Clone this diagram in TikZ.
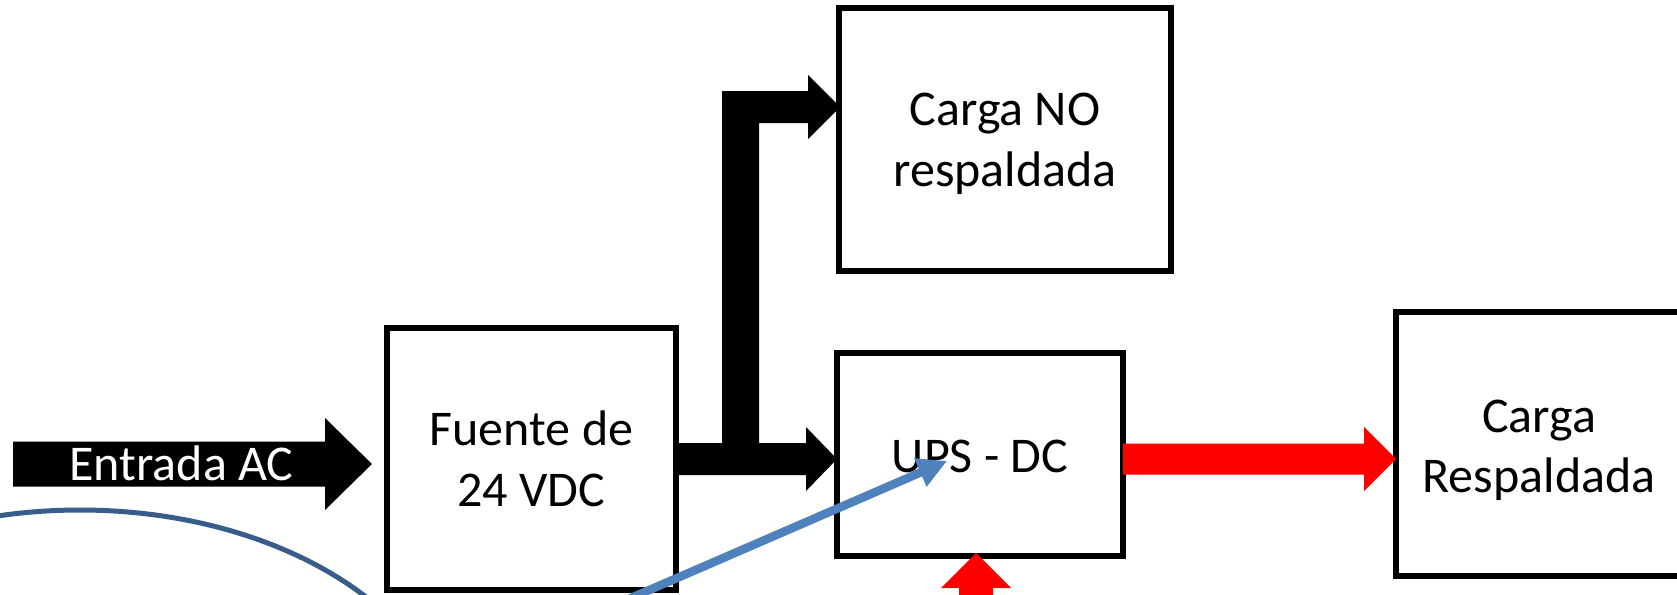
\documentclass[tikz,border=0pt]{standalone}
\usepackage{fontspec}
\setmainfont{Carlito}
\usetikzlibrary{calc,arrows.meta,shapes.geometric}
\definecolor{ellblue}{RGB}{56,93,138}
\definecolor{arrblue}{RGB}{79,129,189}
\definecolor{pred}{RGB}{255,0,0}
% colour, from, to, half shaft, half head, head length
\newcommand{\hblockarrow}[6]{%
  \fill[#1] let \p1=(#2), \p2=(#3) in
  (\x1,\y1+#4) -- (\x2-#6,\y1+#4) -- (\x2-#6,\y1+#5) -- (\x2,\y1) --
  (\x2-#6,\y1-#5) -- (\x2-#6,\y1-#4) -- (\x1,\y1-#4) -- cycle;}
\begin{document}
\begin{tikzpicture}[x=1pt,y=-1pt,
  box/.style={draw=black,line width=5.5pt,fill=white,inner sep=0pt,outer sep=0pt},
  lbl/.style={font=\fontsize{50}{60}\selectfont,inner sep=0pt,anchor=base},
  bluearrow/.style={draw=arrblue,line width=8.5pt,-{Triangle[length=29pt,width=29pt]}}]
\useasboundingbox (0,0) rectangle (1677,594);
\clip (0,0) rectangle (1677,594);

% background oval
\node[draw=ellblue,line width=5pt,ellipse,inner sep=0pt,
      minimum width=752pt,minimum height=496pt] (oval) at (80,758) {};

% boxes
\node[box,minimum width=289pt,minimum height=262pt] (fuente) at (531.5,459) {};
\node[box,minimum width=332pt,minimum height=263pt] (nores) at (1005,139.5) {};
\node[box,minimum width=286pt,minimum height=203pt] (ups) at (980,454.5) {};
\node[box,minimum width=286pt,minimum height=264pt] (resp) at (1539,444) {};

% labels
\node[lbl] (tf1) at (531.5,445) {Fuente de};
\node[lbl] (tf2) at (531.5,506) {24 VDC};
\node[lbl] (tn1) at (1005,125) {Carga NO};
\node[lbl] (tn2) at (1005,186) {respaldada};
\node[lbl] (tu) at (980,472) {UPS - DC};
\node[lbl] (tr1) at (1539,432) {Carga};
\node[lbl] (tr2) at (1539,492) {Respaldada};

% input arrow
\coordinate (acin) at (13,464);
\coordinate (actip) at (372,464);
\hblockarrow{black}{acin}{actip}{22.5pt}{46pt}{47pt}
\node[lbl,text=white] (tac) at (181.5,480) {Entrada AC};

% black outputs
\hblockarrow{black}{fuente.east}{ups.west}{16pt}{32pt}{31pt}
\fill[black] (722,443) -- (722,91) -- (808,91) -- (808,75) -- (840,107)
  -- (808,139) -- (808,123) -- (759,123) -- (759,443) -- cycle;

% red arrows
\hblockarrow{pred}{[yshift=-4.5pt]ups.east}{resp.west}{15.5pt}{32pt}{32pt}
\fill[pred] (959,600) -- (959,588) -- (941,588) -- (976,553) -- (1011,588)
  -- (993,588) -- (993,600) -- cycle;

% blue arrow
\coordinate (bs) at (594,614);
\coordinate (bt) at (947,461);
\draw[bluearrow] (bs) -- (bt);
\end{tikzpicture}
\end{document}
